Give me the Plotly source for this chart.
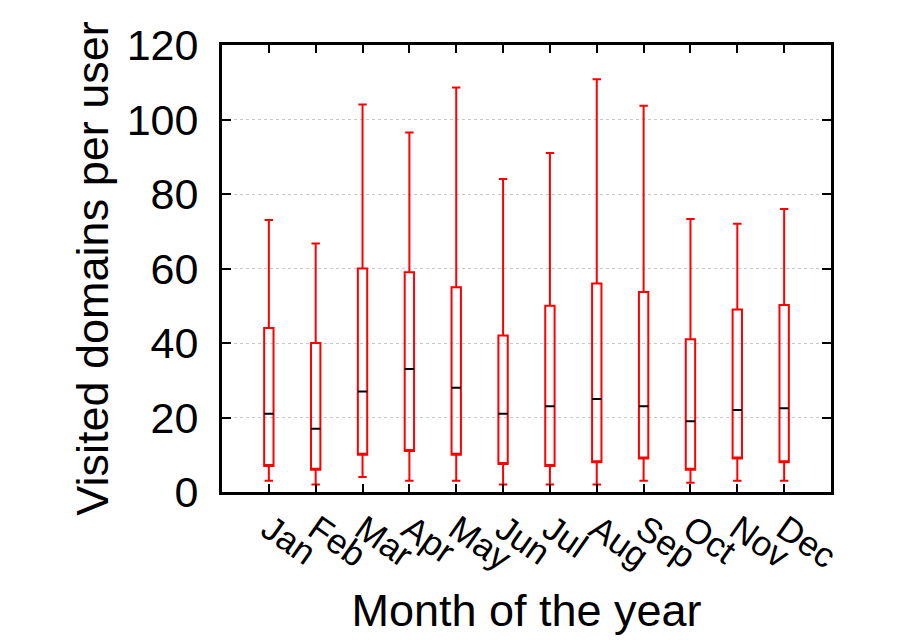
import plotly.graph_objects as go

months = ["Jan", "Feb", "Mar", "Apr", "May", "Jun", "Jul", "Aug", "Sep", "Oct", "Nov", "Dec"]
positions = list(range(1, 13))
whisker_low = [3, 2, 4, 3, 3, 2, 2, 2, 3, 2.5, 3, 3]
q1 = [7, 6, 10, 11, 10, 7.5, 7, 8, 9, 6, 9, 8]
median = [21, 17, 27, 33, 28, 21, 23, 25, 23, 19, 22, 22.5]
q3 = [44, 40, 60, 59, 55, 42, 50, 56, 53.7, 41, 49, 50.2]
whisker_high = [73, 66.7, 104, 96.5, 108.6, 84, 91, 110.8, 103.7, 73.3, 72, 76]

FONT = "Liberation Sans, Arial, sans-serif"

fig = go.Figure()
fig.add_trace(go.Box(
    x=positions, q1=q1, median=q1, q3=q3,
    lowerfence=whisker_low, upperfence=whisker_high,
    width=0.2, whiskerwidth=0.9,
    line=dict(color="#ff0000", width=2),
    fillcolor="rgba(0,0,0,0)",
    boxpoints=False, hoverinfo="skip", showlegend=False,
))
fig.add_trace(go.Box(
    x=positions, q1=median, median=median, q3=median,
    lowerfence=median, upperfence=median,
    width=0.2, whiskerwidth=1,
    line=dict(color="#000000", width=2),
    fillcolor="rgba(0,0,0,0)",
    boxpoints=False, hoverinfo="skip", showlegend=False,
))

fig.update_layout(
    width=913, height=640,
    margin=dict(l=214, r=90, t=37, b=156),
    paper_bgcolor="white", plot_bgcolor="white",
    boxmode="overlay",
    font=dict(family=FONT, color="black"),
    xaxis=dict(
        range=[0, 13], tickmode="array", tickvals=positions, ticktext=months,
        tickangle=35, tickfont=dict(size=35, family=FONT),
        ticks="inside", ticklen=8, tickwidth=2, tickcolor="black",
        showline=True, linewidth=3, linecolor="black", mirror="ticks",
        showgrid=False, zeroline=False,
        title=dict(text="Month of the year", font=dict(size=45, family=FONT), standoff=18),
    ),
    yaxis=dict(
        range=[0, 120], tickmode="array", tickvals=[0, 20, 40, 60, 80, 100, 120],
        tickfont=dict(size=43, family=FONT),
        ticks="inside", ticklen=9, tickwidth=2, tickcolor="black",
        showline=True, linewidth=3, linecolor="black", mirror="ticks",
        showgrid=True, gridcolor="#c8c8c8", griddash="dot", gridwidth=1,
        zeroline=False, ticklabelstandoff=12,
        title=dict(text="Visited domains per user", font=dict(size=45, family=FONT), standoff=4),
    ),
)

fig.write_html("out.html")
